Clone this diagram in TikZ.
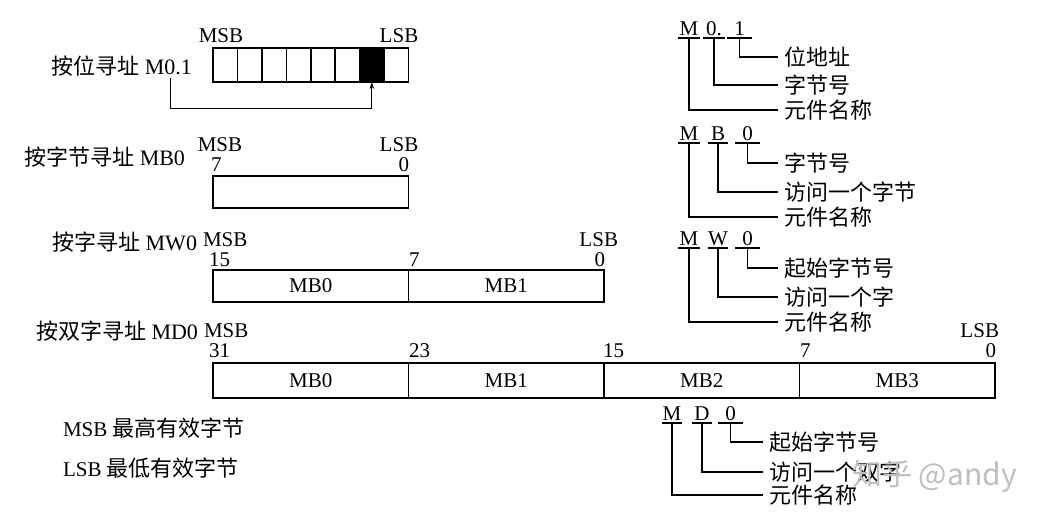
\documentclass[tikz,border=0pt]{standalone}
\usepackage{fontspec}
\setmainfont{Liberation Serif}
\newfontfamily\cjk{Noto Sans CJK SC}
\usetikzlibrary{arrows.meta}
\begin{document}
\begin{tikzpicture}[x=1pt,y=-1pt,
  lbl/.style={inner sep=0pt, outer sep=0pt, font=\fontsize{22}{26}\selectfont},
  num/.style={inner sep=0pt, outer sep=0pt, font=\fontsize{21}{24}\selectfont},
  cell/.style={draw, line width=1.6pt, inner sep=0pt, outer sep=0pt, minimum width=24.4375pt, minimum height=34pt},
  bytebox/.style={draw, line width=1.6pt, inner sep=0pt, outer sep=0pt, minimum width=195.5pt, font=\fontsize{21}{24}\selectfont},
  ltr/.style={font=\fontsize{21}{24}\selectfont, inner xsep=0pt, inner ysep=3pt, outer sep=0pt, text depth=0pt, text height=14pt, anchor=base},
  tx/.style={font=\cjk\fontsize{22}{26}\selectfont, anchor=west, inner xsep=6pt, inner ysep=0pt, outer sep=0pt},
  uline/.style={line width=1.1pt},
  lead/.style={line width=1.1pt},
  arr/.style={line width=0.8pt, -{Stealth[length=7pt,width=4.5pt]}}]
\useasboundingbox (0,0) rectangle (1052,523);
\fill[white] (0,0) rectangle (1052,523);

% ---------- Row 1: bit addressing ----------
\node[lbl, anchor=east] (l1) at (192,66) {{\cjk 按位寻址} M0.1};
\foreach \i in {0,...,7} {
  \node[cell] (b\i) at ({213+24.4375*\i+12.21875},65) {};
}
\fill[black] (b6.south west) rectangle (b6.north east);
\node[num, anchor=base] (msb1) at (221,42) {MSB};
\node[num, anchor=base] (lsb1) at (399,42) {LSB};
\coordinate (as) at (170,78);
\path (b6.south) ++(0,26) coordinate (am);
\draw[arr] (as) |- (am) -- (b6.south);

% ---------- Row 2: byte addressing ----------
\node[lbl, anchor=east] (l2) at (185,157) {{\cjk 按字节寻址} MB0};
\node[bytebox, minimum height=32pt] (r2) at (310.75,192) {};
\node[num, anchor=base] (msb2) at (220,151) {MSB};
\node[num, anchor=base west] (n2a) at (211,171) {7};
\node[num, anchor=base] (lsb2) at (399,151) {LSB};
\node[num, anchor=base east] (n2b) at (409,171) {0};

% ---------- Row 3: word addressing ----------
\node[lbl, anchor=east] (l3) at (197,242) {{\cjk 按字寻址} MW0};
\node[bytebox, minimum height=32pt] (r3a) at (310.75,286) {MB0};
\node[bytebox, minimum height=32pt] (r3b) at (506.25,286) {MB1};
\node[num, anchor=base west] (msb3) at (203,246) {MSB};
\node[num, anchor=base west] (n3a) at (209,266) {15};
\node[num, anchor=base west] (n3b) at (409,266) {7};
\node[num, anchor=base east] (n3c) at (605,266) {0};
\node[num, anchor=base east] (lsb3) at (618,246) {LSB};

% ---------- Row 4: double word addressing ----------
\node[lbl, anchor=east] (l4) at (198,331) {{\cjk 按双字寻址} MD0};
\node[bytebox, minimum height=35pt] (r4a) at (310.75,380.5) {MB0};
\node[bytebox, minimum height=35pt] (r4b) at (506.25,380.5) {MB1};
\node[bytebox, minimum height=35pt] (r4c) at (701.75,380.5) {MB2};
\node[bytebox, minimum height=35pt] (r4d) at (897.25,380.5) {MB3};
\node[num, anchor=base west] (msb4) at (204,337) {MSB};
\node[num, anchor=base west] (n4a) at (209,357) {31};
\node[num, anchor=base west] (n4b) at (409,357) {23};
\node[num, anchor=base west] (n4c) at (603,357) {15};
\node[num, anchor=base west] (n4d) at (800,357) {7};
\node[num, anchor=base east] (n4e) at (996,357) {0};
\node[num, anchor=base east] (lsb4) at (999,337) {LSB};

% ---------- Legend ----------
\node[lbl, anchor=west] (leg1) at (63,428) {\fontsize{21}{24}\selectfont MSB {\cjk\fontsize{22}{26}\selectfont 最高有效字节}};
\node[lbl, anchor=west] (leg2) at (63,468) {\fontsize{21}{24}\selectfont LSB {\cjk\fontsize{22}{26}\selectfont 最低有效字节}};

% ---------- Annotation M0.1 ----------
\node[ltr, minimum width=22pt] (a1m) at (689,35) {M};
\node[ltr, minimum width=22pt] (a1b) at (714,35) {0.};
\node[ltr, minimum width=25pt] (a1c) at (739.5,35) {1};
\node[tx] (a1t1) at (778,57) {位地址};
\node[tx] (a1t2) at (778,85) {字节号};
\node[tx] (a1t3) at (778,110) {元件名称};
\foreach \n in {a1m,a1b,a1c} \draw[uline] (\n.south west) -- (\n.south east);
\draw[lead] (a1c.south) |- (a1t1.west);
\draw[lead] (a1b.south) |- (a1t2.west);
\draw[lead] (a1m.south) |- (a1t3.west);

% ---------- Annotation MB0 ----------
\node[ltr, minimum width=22pt] (a2m) at (689,140) {M};
\node[ltr, minimum width=20pt] (a2b) at (718,140) {B};
\node[ltr, minimum width=25pt] (a2c) at (747.5,140) {0};
\node[tx] (a2t1) at (778,163) {字节号};
\node[tx] (a2t2) at (778,192) {访问一个字节};
\node[tx] (a2t3) at (778,217) {元件名称};
\foreach \n in {a2m,a2b,a2c} \draw[uline] (\n.south west) -- (\n.south east);
\draw[lead] (a2c.south) |- (a2t1.west);
\draw[lead] (a2b.south) |- (a2t2.west);
\draw[lead] (a2m.south) |- (a2t3.west);

% ---------- Annotation MW0 ----------
\node[ltr, minimum width=22pt] (a3m) at (689,245) {M};
\node[ltr, minimum width=20pt] (a3b) at (718,245) {W};
\node[ltr, minimum width=25pt] (a3c) at (747.5,245) {0};
\node[tx] (a3t1) at (778,268) {起始字节号};
\node[tx] (a3t2) at (778,297) {访问一个字};
\node[tx] (a3t3) at (778,322) {元件名称};
\foreach \n in {a3m,a3b,a3c} \draw[uline] (\n.south west) -- (\n.south east);
\draw[lead] (a3c.south) |- (a3t1.west);
\draw[lead] (a3b.south) |- (a3t2.west);
\draw[lead] (a3m.south) |- (a3t3.west);

% ---------- Annotation MD0 ----------
\node[ltr, minimum width=20pt] (a4m) at (672,420) {M};
\node[ltr, minimum width=20pt] (a4b) at (702,420) {D};
\node[ltr, minimum width=25pt] (a4c) at (730.5,420) {0};
\node[tx] (a4t1) at (763,442) {起始字节号};
\node[tx] (a4t2) at (763,472) {访问一个双字};
\node[tx] (a4t3) at (763,495) {元件名称};
\foreach \n in {a4m,a4b,a4c} \draw[uline] (\n.south west) -- (\n.south east);
\draw[lead] (a4c.south) |- (a4t1.west);
\draw[lead] (a4b.south) |- (a4t2.west);
\draw[lead] (a4m.south) |- (a4t3.west);

% ---------- Watermark ----------
\node[anchor=west, inner sep=0pt, text=black!25, font=\cjk\fontsize{30}{34}\selectfont] (wm) at (852,476) {知乎 @andy};
\end{tikzpicture}
\end{document}
